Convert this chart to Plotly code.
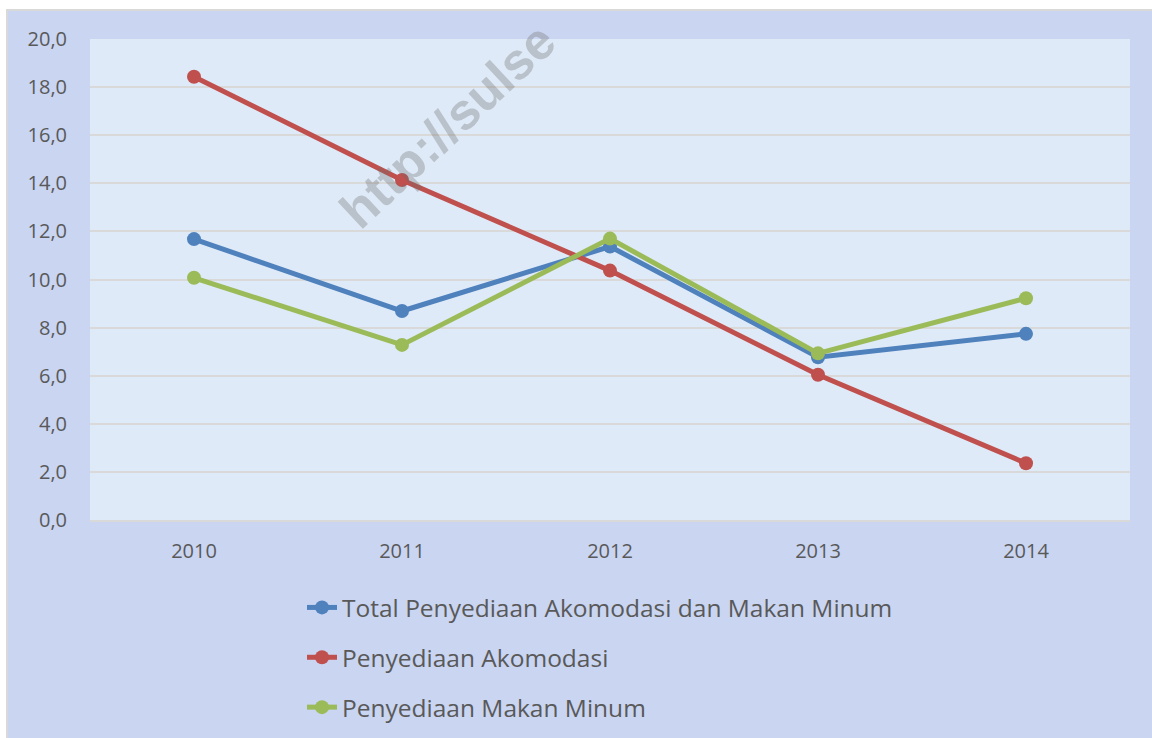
import plotly.graph_objects as go

years = ["2010", "2011", "2012", "2013", "2014"]
total = [11.68, 8.69, 11.37, 6.77, 7.74]
akomodasi = [18.43, 14.14, 10.37, 6.04, 2.36]
makan_minum = [10.07, 7.28, 11.70, 6.93, 9.22]

series_names = [
    "Total Penyediaan Akomodasi dan Makan Minum",
    "Penyediaan Akomodasi",
    "Penyediaan Makan Minum",
]
series_values = [total, akomodasi, makan_minum]
series_colors = ["#4f81bd", "#c0504d", "#9bbb59"]

y_ticks = [0, 2, 4, 6, 8, 10, 12, 14, 16, 18, 20]

W, H = 1152, 738
L, R, T, B = 90, 1130, 39, 520
pw, ph = R - L, B - T


def px_x(p):
    return (p - L) / pw


def px_y(p):
    return (B - p) / ph


fig = go.Figure()
for i, (name, vals, col) in enumerate(zip(series_names, series_values, series_colors)):
    fig.add_trace(go.Scatter(
        x=years, y=vals, name=name, mode="lines+markers",
        line=dict(color=col, width=5),
        marker=dict(color=col, size=14),
        legendgroup=f"g{i}",
    ))

fig.update_layout(
    width=W, height=H,
    margin=dict(l=L, r=W - R, t=T, b=H - B, pad=0, autoexpand=False),
    paper_bgcolor="white",
    plot_bgcolor="#dfeaf8",
    separators=",.",
    font=dict(family="Open Sans", color="#595959", size=20),
    showlegend=True,
    legend=dict(
        x=px_x(302), y=px_y(585), xanchor="left", yanchor="top",
        orientation="v", bgcolor="rgba(0,0,0,0)",
        font=dict(family="Open Sans", size=24.5, color="#595959"),
        tracegroupgap=15,
    ),
    shapes=[
        dict(type="rect", xref="paper", yref="paper", layer="below",
             x0=px_x(7), x1=px_x(1160), y0=px_y(760), y1=px_y(10),
             fillcolor="#c9d5f1", line=dict(color="#d9d9d9", width=2)),
        dict(type="rect", xref="paper", yref="paper", layer="below",
             x0=0, x1=1, y0=0, y1=1,
             fillcolor="#dfeaf8", line=dict(width=0)),
    ],
    annotations=[
        dict(text="<b>http://sulse</b>", xref="paper", yref="paper",
             x=px_x(448), y=px_y(126), xanchor="center", yanchor="middle",
             textangle=-43, showarrow=False,
             font=dict(family="Liberation Sans", size=51, color="rgba(110,110,110,0.33)")),
    ],
)

fig.update_xaxes(
    type="category", range=[-0.5, 4.5],
    showgrid=False, zeroline=False,
    showline=True, linecolor="#d9d9d9", linewidth=2,
    ticks="", ticklabelstandoff=12,
    tickfont=dict(size=20, color="#595959"),
)
fig.update_yaxes(
    range=[0, 20], tickvals=y_ticks, tickformat=".1f",
    showgrid=True, gridcolor="#d9d9d9", gridwidth=2,
    zeroline=False, showline=False,
    ticks="", ticklabelstandoff=22,
    tickfont=dict(size=20, color="#595959"),
)

fig.write_html("out.html", config={"displayModeBar": False},
               post_script="document.body.style.margin='0';")
